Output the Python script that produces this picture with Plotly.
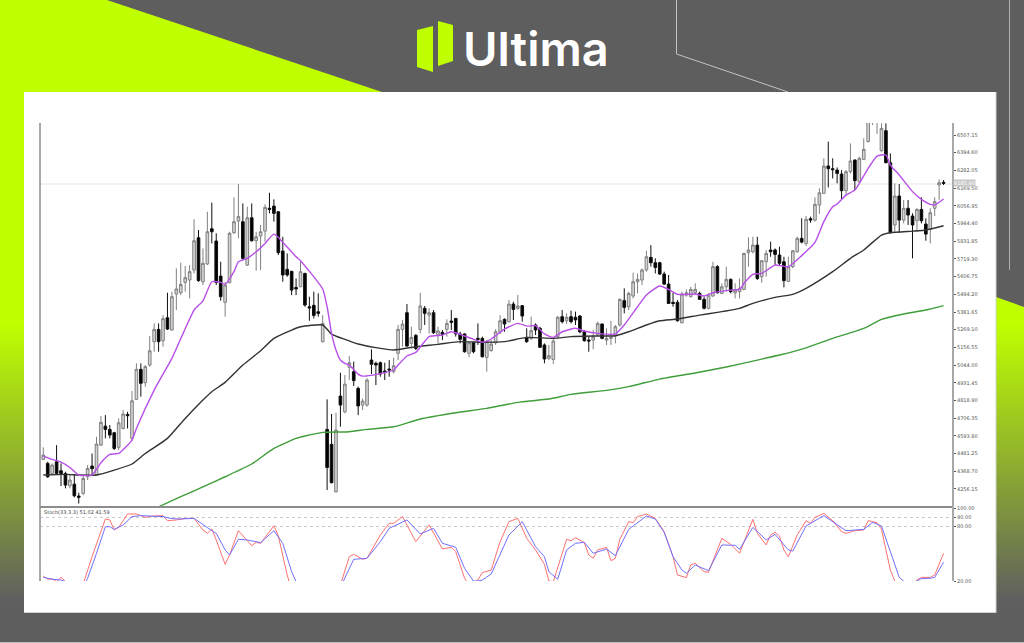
import plotly.graph_objects as go

W = 1024
H = 643

# candles
opens = [4444,4419,4355,4429,4372,4355,4277,4287,4211,4228,
         4334,4402,4345,4535,4656,4635,4614,4521,4641,4730,
         4578,4826,5017,4932,5044,5193,5271,5199,5345,5267,
         5496,5504,5570,5585,5648,5854,5574,5687,5911,5833,
         5610,5443,5568,5886,5960,5956,5680,5981,5835,5865,
         5896,6041,6055,6019,5769,5653,5640,5538,5542,5627,
         5415,5424,5383,5193,4635,4540,4239,4847,4747,5030,
         5002,4896,4790,4790,5076,5055,5059,5006,5019,5002,
         5119,5271,5377,5182,5233,5271,5405,5362,5377,5235,
         5252,5271,5324,5341,5242,5242,5119,5186,5214,5214,
         5093,5136,5186,5256,5335,5320,5432,5405,5422,5220,
         5214,5299,5278,5172,5087,5080,5225,5352,5326,5352,
         5348,5356,5256,5203,5203,5235,5305,5203,5214,5229,
         5299,5454,5415,5483,5574,5585,5649,5729,5695,5695,
         5623,5559,5443,5443,5313,5489,5479,5504,5500,5462,
         5405,5483,5670,5500,5542,5589,5504,5511,5525,5759,
         5765,5807,5606,5701,5776,5776,5744,5701,5576,5670,
         5765,5850,5818,5975,5966,6062,6136,6310,6293,6284,
         6259,6153,6274,6348,6210,6352,6465,6602,6592,6407,
         6535,6331,5935,6119,5966,6041,5992,5962,6034,5941,
         5907,6041,6189,6206]
closes = [4472,4334,4408,4355,4355,4281,4313,4213,4203,4323,
          4387,4385,4542,4680,4635,4599,4514,4677,4733,4722,
          4817,5017,4928,5034,5135,5271,5193,5339,5273,5479,
          5528,5557,5600,5638,5835,5581,5691,5892,5892,5570,
          5479,5553,5882,5956,5988,5723,5981,5835,5860,5892,
          6047,6034,6009,5759,5617,5617,5521,5528,5638,5426,
          5407,5360,5373,5309,4393,4296,4631,4790,4923,5059,
          4945,4784,4815,4949,5049,5044,4987,4999,5013,5040,
          5271,5305,5165,5220,5150,5420,5373,5377,5250,5261,
          5239,5309,5316,5242,5208,5129,5186,5129,5208,5097,
          5193,5178,5256,5326,5305,5432,5398,5420,5356,5193,
          5263,5267,5157,5083,5104,5197,5348,5320,5348,5320,
          5331,5256,5199,5197,5225,5309,5214,5214,5220,5288,
          5462,5411,5500,5574,5589,5649,5733,5695,5665,5623,
          5559,5436,5436,5326,5496,5504,5525,5525,5462,5405,
          5489,5670,5504,5542,5589,5511,5521,5532,5754,5776,
          5807,5595,5708,5754,5765,5748,5691,5581,5670,5771,
          5850,5826,5971,5966,6066,6140,6310,6293,6287,6263,
          6153,6274,6342,6217,6359,6416,6602,6645,6624,6549,
          6331,5886,6119,5966,6041,5998,5935,6034,5962,5877,
          6013,6083,6204,6200]
highs = [4521,4429,4419,4535,4419,4366,4345,4345,4232,4345,
         4408,4482,4588,4720,4726,4663,4620,4705,4758,4747,
         4879,5055,5055,5044,5229,5309,5309,5362,5504,5511,
         5659,5695,5674,5680,5971,5903,5786,6019,6077,5882,
         5701,5574,5892,6111,6195,6072,6051,6072,5892,5935,
         6066,6140,6098,6024,5860,5754,5644,5595,5701,5631,
         5479,5511,5500,5362,4826,4733,4741,4995,4981,5102,
         5066,4907,4832,4960,5144,5066,5066,5059,5076,5091,
         5299,5331,5432,5288,5242,5504,5420,5405,5394,5288,
         5267,5335,5394,5341,5256,5246,5193,5193,5309,5225,
         5203,5203,5273,5362,5341,5458,5447,5490,5426,5278,
         5352,5309,5288,5182,5172,5214,5356,5394,5373,5390,
         5384,5362,5267,5225,5267,5320,5309,5278,5326,5299,
         5468,5532,5511,5632,5627,5659,5772,5807,5723,5701,
         5638,5617,5504,5458,5511,5525,5542,5564,5511,5479,
         5500,5701,5680,5564,5670,5595,5564,5595,5759,5856,
         5860,5860,5712,5776,5829,5786,5797,5733,5733,5776,
         5860,5977,5992,5988,6111,6168,6359,6465,6359,6301,
         6284,6284,6454,6352,6369,6486,6624,6655,6645,6581,
         6581,6390,6200,6195,6094,6094,6009,6041,6111,5977,
         6041,6111,6225,6221]
lows = [4440,4326,4345,4345,4275,4260,4260,4203,4164,4217,
        4313,4345,4345,4529,4578,4578,4504,4504,4635,4641,
        4561,4822,4843,4906,5034,5129,5129,5161,5267,5263,
        5394,5489,5511,5468,5627,5574,5553,5680,5818,5553,
        5453,5352,5564,5877,5850,5712,5674,5829,5644,5648,
        5829,6009,5956,5744,5574,5606,5489,5489,5542,5415,
        5326,5341,5352,5188,4249,4292,4232,4652,4737,4949,
        4911,4726,4758,4779,4987,4917,4970,4949,4970,4991,
        5076,5161,5161,5161,5140,5246,5299,5246,5242,5182,
        5203,5225,5267,5225,5182,5123,5093,5119,5172,5093,
        5002,5129,5172,5242,5256,5314,5331,5394,5320,5186,
        5203,5235,5153,5055,5076,5051,5214,5309,5305,5309,
        5299,5246,5193,5129,5144,5229,5208,5172,5172,5182,
        5288,5373,5394,5468,5500,5553,5638,5670,5627,5617,
        5553,5432,5415,5320,5309,5479,5475,5489,5458,5398,
        5398,5479,5500,5496,5511,5500,5468,5468,5521,5670,
        5754,5585,5568,5606,5733,5680,5680,5538,5572,5659,
        5759,5818,5801,5949,5956,6005,6132,6174,6231,6200,
        6098,6119,6263,6157,6204,6348,6460,6571,6513,6401,
        6327,5882,5892,5886,5945,5935,5723,5892,5945,5835,
        5818,5992,6094,6189]

# moving averages, sampled at the bars where they bend
purple_bars = [0,2,4,6,8,11,13,15,17,20,21,25,29,34,36,38,40,41,43,44,46,48,50,52,53,57,58,63,64,65,66,67,68,
               69,71,72,74,77,79,80,82,84,87,90,92,95,97,99,101,104,107,109,111,113,115,117,120,122,125,129,131,134,136,
               139,141,143,147,149,151,155,157,158,160,162,165,168,171,174,176,178,179,181,183,186,188,190,191,193,196,198,200,201,203]
purple_ma = [4467,4444,4427,4393,4345,4345,4423,4476,4482,4567,4641,4885,5087,5394,5453,5574,5570,5557,5638,5701,5723,5765,5818,5877,5856,5733,5708,5528,5415,5246,5140,5076,5055,
             5044,4987,4974,4979,4996,5013,5044,5102,5125,5225,5235,5256,5229,5208,5189,5210,5273,5309,5292,5295,5242,5220,5256,5278,5261,5246,5242,5299,5415,5490,
             5547,5525,5494,5496,5483,5504,5521,5525,5564,5621,5627,5680,5670,5740,5824,5956,6051,6068,6125,6157,6295,6373,6380,6316,6253,6147,6098,6066,6062,6100]

black_bars = [0,5,8,12,16,20,23,28,32,36,38,41,45,49,52,56,58,63,65,68,
              71,75,79,84,89,94,99,104,109,115,119,124,129,132,136,
              139,143,148,152,157,160,165,169,172,178,182,185,189,191,196,199,203]
black_ma = [4345,4349,4345,4345,4376,4415,4482,4578,4705,4822,4875,4934,5044,5135,5214,5267,5288,5299,5241,5207,
            5178,5155,5140,5161,5176,5193,5189,5193,5220,5214,5225,5229,5231,5256,5299,
            5326,5337,5362,5379,5405,5436,5475,5494,5532,5638,5723,5776,5871,5886,5896,5903,5930]

green_bars = [26,31,36,41,47,52,57,59,63,69,73,79,85,93,100,107,114,119,127,132,139,147,154,161,166,172,178,185,189,194,199,203]
green_ma = [4143,4207,4270,4334,4415,4514,4578,4593,4616,4620,4635,4652,4701,4741,4769,4807,4828,4858,4883,4907,4955,4994,5032,
            5076,5108,5154,5214,5277,5335,5369,5394,5422]

# stochastic panel
stoch_main_bars = [0,1,2,3,4,5,6,9,11,13,14,15,16,17,19,21,23,25,27,28,30,32,34,36,37,38,39,41,42,44,46,47,48,49,52,53,55,
                   56,60,65,67,69,70,72,73,76,78,79,81,84,87,90,92,93,95,96,98,99,101,103,105,107,109,111,113,114,115,
                   118,119,120,122,123,124,125,127,128,129,130,132,133,134,136,138,140,142,143,145,146,147,149,150,153,155,157,
                   160,161,163,164,165,166,167,168,170,172,173,174,176,178,180,181,183,185,186,188,189,191,192,194,196,197,198,200,201,203]
stoch_main = [25.5,21.9,22.6,19.3,24.1,19.3,10,16.7,46.8,76.2,88.3,87.2,76.2,79.1,93.8,93.8,90.1,91.6,92,86.4,87.2,89,89,76.2,72.5,77.3,65.2,38.4,48.6,75.4,64.4,58.9,62.6,61.5,80.9,69.6,26.6,
              10,5,3,15.6,46.8,49.4,43.9,45,70.7,83.5,83.5,90.9,63.3,81.7,55.2,57.1,52.3,23,15.6,21.1,29.2,32.1,63.3,85.3,89,67,54.2,38.4,20,19.3,
              65.9,64.4,67.7,62.2,48.6,45,54.2,57.1,42.4,45,65.9,85.3,84.2,90.9,93.8,89,74.3,46.8,26.6,23.7,37.6,39.5,30.3,29.6,67,60.4,50.5,
              87.9,72.5,59.7,70.7,73.6,69.6,54.2,46.8,70.7,86.4,83.5,90.1,94.5,86.4,74.3,72.5,75.4,76.2,86.4,84.2,76.9,32.1,20,10,15.6,21.1,24,24,26.6,50.5]

stoch_signal_bars = [0,2,4,5,8,9,10,12,14,15,16,18,20,22,27,29,31,34,36,38,39,41,42,44,46,49,52,54,56,57,60,64,67,68,70,73,76,78,82,85,88,90,93,95,97,98,99,101,
                     103,105,108,109,111,113,114,116,118,120,122,124,127,129,132,136,138,140,142,144,145,147,150,153,156,157,160,163,165,168,169,172,176,181,185,187,189,193,195,197,198,200,201,203]
stoch_signal = [24.1,21.9,21.1,19.3,4.6,13,23,50.5,79.8,79.8,76.9,81.7,90.9,92,90.9,88.7,88.3,89,81.7,75.4,72.5,54.2,48.6,65.9,65.2,62.2,75.4,61.5,30.3,19.3,8,5,13,23,43.9,45,63.3,78,87.2,71.8,78,61.5,57.1,34,20,20,21.1,27.7,
                48.6,70.7,85.3,76.2,57.8,46.8,30.3,21.9,54.2,61.5,62.6,50.5,55.2,47.9,76.9,91.6,88.3,73.6,46.8,32.1,28.5,37.6,31.4,59.7,59.3,54.9,79.1,65.2,71.4,54.2,53,80.6,92,75.4,76.9,84.6,80.6,24,15.6,20,22.6,23,24,40.6]

price_ticks = [6507.15,6394.60,6282.05,6169.50,6056.95,5944.40,5831.85,5719.30,5606.75,5494.20,5381.65,
               5269.10,5156.55,5044.00,4931.45,4818.90,4706.35,4593.80,4481.25,4368.70,4256.15]
stoch_ticks = [100, 90, 80, 20]
last_price = 6195.40

GREY = "#5e5e5e"
LIME = "#bfff00"
TICK_FONT = dict(family="DejaVu Sans", size=5, color="#555555")


def px_x(x):
    return x / W


def px_y(y):
    return 1 - y / H


def rect(x0, y0, x1, y1, color):
    return dict(type="rect", xref="paper", yref="paper", x0=px_x(x0), x1=px_x(x1), y0=px_y(y0), y1=px_y(y1),
                fillcolor=color, line_width=0, layer="below")


def poly(points, color):
    path = "M" + " L".join(f"{px_x(x)},{px_y(y)}" for x, y in points) + " Z"
    return dict(type="path", xref="paper", yref="paper", path=path, fillcolor=color, line_width=0, layer="below")


def seg(points, color, width=1, layer="below"):
    path = "M" + " L".join(f"{px_x(x)},{px_y(y)}" for x, y in points)
    return dict(type="path", xref="paper", yref="paper", path=path, line=dict(color=color, width=width), layer=layer)


# page decoration
shapes = [
    poly([(0, 0), (107, 0), (382, 92), (382, 95), (0, 95)], LIME),
    rect(0, 92, 24, 325, LIME),
    poly([(996, 297), (1024, 307), (1024, 325), (996, 325)], LIME),
    seg([(676.5, 0), (676.5, 54), (788, 92)], "#c4c4c4"),
    seg([(1009.5, 0), (1009.5, 270)], "#b0b0b0"),
    seg([(0, 642.5), (1024, 642.5)], "#bdbdbd"),
]
for y in range(323, 601, 3):
    t = (y - 323) / 277
    col = "rgb({},{},{})".format(round(191 + (94 - 191) * t), round(255 + (94 - 255) * t), round(0 + 94 * t))
    shapes.append(rect(0, y, 24, y + 4, col))
    shapes.append(rect(996, y, 1024, y + 4, col))
shapes += [
    rect(24, 92, 996, 612, "white"),
    seg([(996, 92), (996, 612.5), (24, 612.5)], "#d2d2d2"),
    # logo
    poly([(417, 30), (433, 26), (433, 72), (417, 67)], LIME),
    poly([(438, 21), (453, 25), (453, 61), (438, 66)], LIME),
    # chart frame
    seg([(40, 123), (40, 581)], "#a8a8a8", 2, "above"),
    seg([(40, 507), (952, 507)], "#8c8c8c", 2, "above"),
    dict(type="line", xref="paper", yref="y", x0=px_x(40), x1=px_x(952), y0=last_price, y1=last_price,
         line=dict(color="#dddddd", width=0.8), layer="below"),
    dict(type="line", xref="paper", yref="y2", x0=px_x(40), x1=px_x(952), y0=90, y1=90,
         line=dict(color="#c8c8c8", width=1, dash="dot"), layer="below"),
    dict(type="line", xref="paper", yref="y2", x0=px_x(40), x1=px_x(952), y0=80, y1=80,
         line=dict(color="#c8c8c8", width=1, dash="dot"), layer="below"),
]

fig = go.Figure()
fig.add_trace(go.Candlestick(
    x=list(range(len(opens))), open=opens, high=highs, low=lows, close=closes,
    increasing=dict(line=dict(color="#808080", width=1), fillcolor="#d4d4d4"),
    decreasing=dict(line=dict(color="#101010", width=1), fillcolor="#000000"),
    whiskerwidth=0, showlegend=False, hoverinfo="skip"))
fig.add_trace(go.Scatter(x=green_bars, y=green_ma, mode="lines", showlegend=False,
                         line=dict(color="#3f9e3a", width=1.4, shape="spline", smoothing=0.5)))
fig.add_trace(go.Scatter(x=black_bars, y=black_ma, mode="lines", showlegend=False,
                         line=dict(color="#333333", width=1.4, shape="spline", smoothing=0.5)))
fig.add_trace(go.Scatter(x=purple_bars, y=purple_ma, mode="lines", showlegend=False,
                         line=dict(color="#b84fe8", width=1.4, shape="spline", smoothing=0.5)))
fig.add_trace(go.Scatter(x=stoch_main_bars, y=stoch_main, mode="lines", xaxis="x2", yaxis="y2",
                         line=dict(color="#ff7070", width=1), showlegend=False))
fig.add_trace(go.Scatter(x=stoch_signal_bars, y=stoch_signal, mode="lines", xaxis="x2", yaxis="y2",
                         line=dict(color="#7070ff", width=1), showlegend=False))

x_range = [-0.74, 204.9]
fig.update_layout(
    width=W, height=H, margin=dict(l=0, r=0, t=0, b=0, pad=0, autoexpand=False),
    paper_bgcolor=GREY, plot_bgcolor="rgba(0,0,0,0)",
    boxgap=0.15, shapes=shapes,
    xaxis=dict(domain=[px_x(40), px_x(952)], range=x_range, visible=False, rangeslider=dict(visible=False),
               anchor="y", automargin=False),
    xaxis2=dict(domain=[px_x(40), px_x(952)], range=x_range, visible=False, anchor="y2", matches="x", automargin=False),
    yaxis=dict(domain=[px_y(507), px_y(123)], range=[4141.6, 6583.5], side="right", anchor="x", automargin=False,
               tickmode="array", tickvals=price_ticks, ticktext=[f"{v:.2f}" for v in price_ticks],
               tickfont=TICK_FONT, ticks="outside", ticklen=2, tickcolor="#555555", tickwidth=1,
               showgrid=False, zeroline=False, showline=True, linecolor="#a8a8a8", linewidth=2),
    yaxis2=dict(domain=[px_y(581), px_y(507)], range=[20, 101.5], side="right", anchor="x2", automargin=False,
                tickmode="array", tickvals=stoch_ticks, ticktext=[f"{v:.2f}" for v in stoch_ticks],
                tickfont=TICK_FONT, ticks="outside", ticklen=2, tickcolor="#555555", tickwidth=1,
                showgrid=False, zeroline=False, showline=True, linecolor="#a8a8a8", linewidth=2),
    annotations=[
        dict(xref="paper", yref="paper", x=px_x(461), y=px_y(48), text="Ultima", showarrow=False, xanchor="left",
             yanchor="middle", font=dict(family="Inter", size=47, weight=600, color="#ffffff")),
        dict(xref="paper", yref="paper", x=px_x(42), y=px_y(512), text="Stoch(33,3,3) 51.02 41.59", showarrow=False,
             xanchor="left", yanchor="middle", font=dict(family="DejaVu Sans", size=5, color="#444444")),
        dict(xref="paper", yref="y", x=px_x(953), y=last_price, text=f"{last_price:.2f}", showarrow=False,
             xanchor="left", yanchor="middle", bgcolor="#c8c8c8", borderpad=0, yshift=1,
             font=dict(family="DejaVu Sans", size=5, color="#ffffff")),
    ],
)

fig.write_html("out.html", config=dict(displayModeBar=False),
               post_script="document.body.style.margin='0';document.body.style.overflow='hidden';")
